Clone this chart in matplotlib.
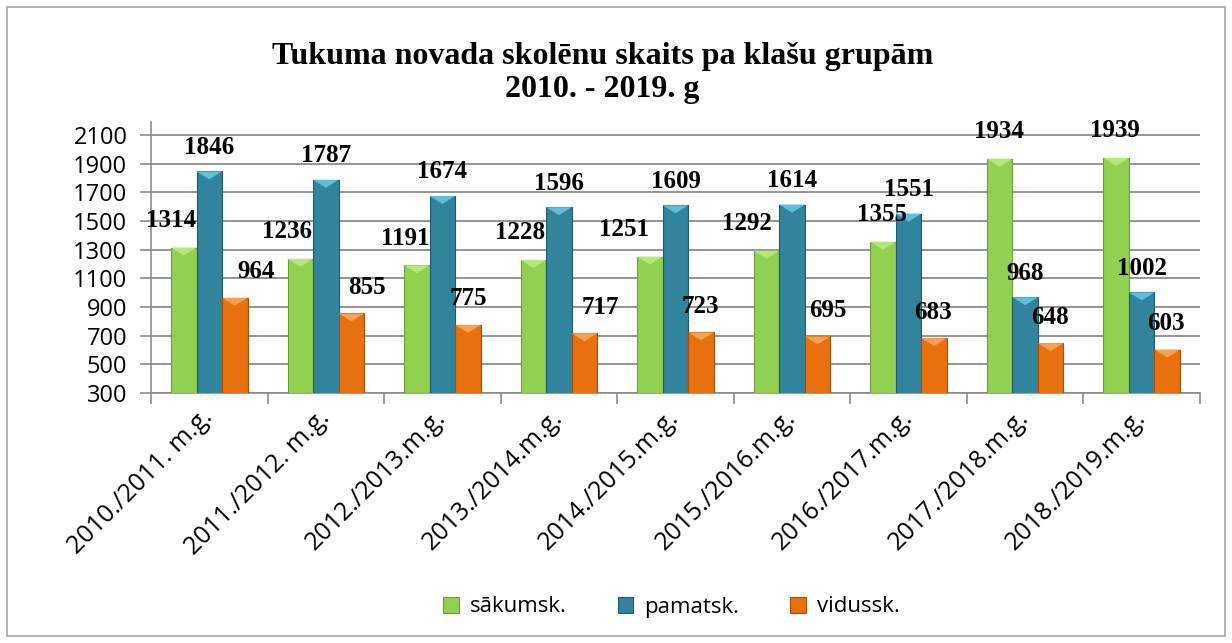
import matplotlib
matplotlib.use("Agg")
import matplotlib.pyplot as plt
import numpy as np
from matplotlib.patches import Rectangle, Polygon

# ---- data ----
categories = ["2010./2011. m.g.", "2011./2012. m.g.", "2012./2013.m.g.", "2013./2014.m.g.",
              "2014./2015.m.g.", "2015./2016.m.g.", "2016./2017.m.g.", "2017./2018.m.g.",
              "2018./2019.m.g."]
sakumsk = [1314, 1236, 1191, 1228, 1251, 1292, 1355, 1934, 1939]
pamatsk = [1846, 1787, 1674, 1596, 1609, 1614, 1551, 968, 1002]
vidussk = [964, 855, 775, 717, 723, 695, 683, 648, 603]
series_names = ["sākumsk.", "pamatsk.", "vidussk."]
yticks = list(range(300, 2101, 200))
title = "Tukuma novada skolēnu skaits pa klašu grupām\n2010. - 2019. g"

# ---- style ----
colors = ["#92D050", "#31849B", "#E8700E"]
light = ["#B5E77A", "#5CC0DA", "#F7A252"]
edges = ["#6E9E3A", "#215B6B", "#A94F07"]
# label offsets in pixels (dx per label, dy per series)
label_dx = [[-13, -13, -12, -13, -26, -20, -1, -1, -1],
            [0, 0, 0, 0, 0, 0, 0, 0, 0],
            [21, 16, 0, 16, -1, 10, -1, -1, -1]]
label_dy = [27, 24, 26]

W, H, DPI = 1232, 643, 100
fig = plt.figure(figsize=(W / DPI, H / DPI), dpi=DPI)
fig.patch.set_facecolor("white")

# outer border
fig.patches.append(Rectangle((7 / W, 1 - 636 / H), (1225 - 7) / W, (636 - 7) / H,
                             transform=fig.transFigure, fill=False,
                             edgecolor="#A6A6A6", linewidth=1.2))

ax = fig.add_axes([151 / W, 1 - 393 / H, (1200 - 151) / W, (393 - 122) / H])
ax.set_xlim(-0.5, len(categories) - 0.5)
ax.set_ylim(300, 2190)

x = np.arange(len(categories))
bw = 0.219
data = [sakumsk, pamatsk, vidussk]
px_per_unit_y = (393 - 135) / 1800.0
for i, vals in enumerate(data):
    bars = ax.bar(x + (i - 1) * bw, vals, width=bw, bottom=0, color=colors[i],
                  edgecolor=edges[i], linewidth=0.8, zorder=3, label=series_names[i])
    for j, b in enumerate(bars):
        x0, x1 = b.get_x(), b.get_x() + b.get_width()
        top = b.get_height()
        h = 8 / px_per_unit_y
        tri = Polygon([[x0, top], [x1, top], [(x0 + x1) / 2, top - h]], closed=True,
                      facecolor=light[i], edgecolor="none", zorder=4)
        ax.add_patch(tri)
        ax.annotate(str(vals[j]), xy=((x0 + x1) / 2, top),
                    xytext=(label_dx[i][j] * 0.72, label_dy[i] * 0.72),
                    textcoords="offset points", ha="center", va="center",
                    fontsize=18, fontweight="bold", family="Liberation Serif",
                    color="black", zorder=6)

ax.set_yticks(yticks)
ax.set_yticklabels([str(v) for v in yticks], family="Open Sans", fontsize=17)
ax.yaxis.grid(True, color="#8C8C8C", linewidth=1.3, zorder=0)
ax.set_axisbelow(True)
ax.tick_params(axis="y", length=8, width=1.2, color="#8C8C8C", pad=9)

ax.set_xticks(x)
ax.set_xticklabels(categories, rotation=45, ha="right", va="center",
                   rotation_mode="anchor", family="Open Sans", fontsize=18)
ax.tick_params(axis="x", length=0, pad=15)
ax.set_xticks(np.arange(-0.5, len(categories), 1.0), minor=True)
ax.tick_params(axis="x", which="minor", length=8, width=1.2, color="#8C8C8C")

for s in ["top", "right"]:
    ax.spines[s].set_visible(False)
for s in ["left", "bottom"]:
    ax.spines[s].set_color("#8C8C8C")
    ax.spines[s].set_linewidth(1.2)

fig.text(0.489, 1 - 73 / H, title, ha="center", va="center", family="Liberation Serif",
         fontweight="bold", fontsize=23, linespacing=1.15)

handles, labels = ax.get_legend_handles_labels()
fig.legend(handles, labels, loc="center", bbox_to_anchor=(0.545, 1 - 607 / H), ncol=3,
           frameon=False, prop={"family": "Open Sans", "size": 16},
           handlelength=0.7, handleheight=0.7, handletextpad=0.5, columnspacing=2.3)

fig.savefig("out.png", dpi=DPI, facecolor="white")
